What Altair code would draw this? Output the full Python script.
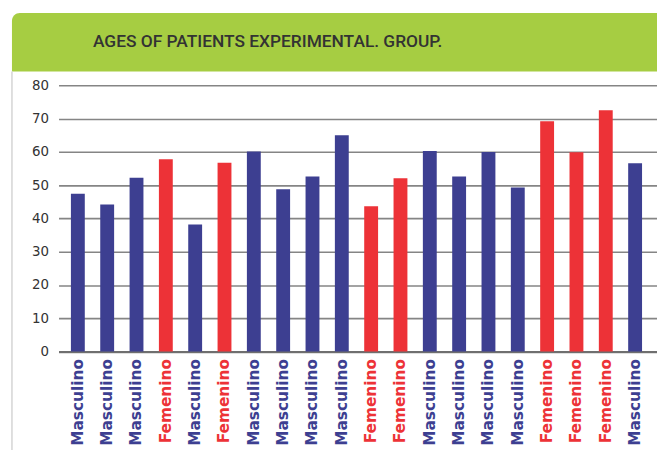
import altair as alt
import pandas as pd

title_text = "AGES OF PATIENTS EXPERIMENTAL. GROUP."
genders = ["Masculino", "Masculino", "Masculino", "Femenino", "Masculino",
           "Femenino", "Masculino", "Masculino", "Masculino", "Masculino",
           "Femenino", "Femenino", "Masculino", "Masculino", "Masculino",
           "Masculino", "Femenino", "Femenino", "Femenino", "Masculino"]
ages = [47.4, 44.2, 52.2, 57.8, 38.2, 56.7, 60.1, 48.8, 52.6, 65.0,
        43.7, 52.1, 60.3, 52.6, 60.0, 49.3, 69.2, 59.9, 72.5, 56.6]
y_ticks = [0, 10, 20, 30, 40, 50, 60, 70, 80]

BLUE = "#3d3f91"
RED = "#ed3237"
W = 604
H = 268.7

keys = [f"{g} {i + 1:02d}" for i, g in enumerate(genders)]
df = pd.DataFrame({"key": keys, "gender": genders, "age": ages})

bars = alt.Chart(df).mark_bar().encode(
    x=alt.X("key:N", sort=keys, title=None,
            scale=alt.Scale(paddingInner=0.527, paddingOuter=0.466, align=0.453),
            axis=alt.Axis(labelAngle=-90, labelExpr="split(datum.value, ' ')[0]",
                          labelColor={"condition": {"test": "indexof(datum.value, 'Femenino') == 0", "value": RED},
                                      "value": BLUE},
                          labelFont="DejaVu Sans", labelFontSize=15.5, labelFontWeight="bold",
                          labelPadding=7, ticks=False, domainColor="#6f6f6f",
                          domainWidth=2, grid=False)),
    y=alt.Y("age:Q", title=None,
            scale=alt.Scale(domain=[0, 80], nice=False),
            axis=alt.Axis(values=y_ticks, ticks=False, domain=False, gridColor="#858585",
                          gridWidth=1.6, labelFont="DejaVu Sans", labelFontSize=13.5,
                          labelColor="#333333", labelPadding=10)),
    color=alt.Color("gender:N", scale=alt.Scale(domain=["Masculino", "Femenino"], range=[BLUE, RED]),
                    legend=None),
)

hdr = pd.DataFrame({"t": [title_text]})
header = alt.Chart(hdr).mark_rect(color="#a6cd42", cornerRadiusTopLeft=8).encode(
    x=alt.value(-47), x2=alt.value(W + 10), y=alt.value(-73), y2=alt.value(-14)
)
border = alt.Chart(hdr).mark_rule(color="#d4d4d4", strokeWidth=1.5).encode(
    x=alt.value(-47), y=alt.value(-14), y2=alt.value(H + 100)
)
title = alt.Chart(hdr).mark_text(font="Roboto", fontSize=17.5, fontWeight=500, color="#333333",
                                 align="center", baseline="middle").encode(
    text="t:N", x=alt.value(211), y=alt.value(-44)
)

chart = alt.layer(header, border, bars, title).properties(
    width=W, height=H,
    autosize=alt.AutoSizeParams(type="none"),
    padding={"left": 51, "top": 76, "right": 0, "bottom": 97},
).configure_view(stroke=None)

chart.save("out.html", embed_options={"renderer": "svg", "actions": False})
